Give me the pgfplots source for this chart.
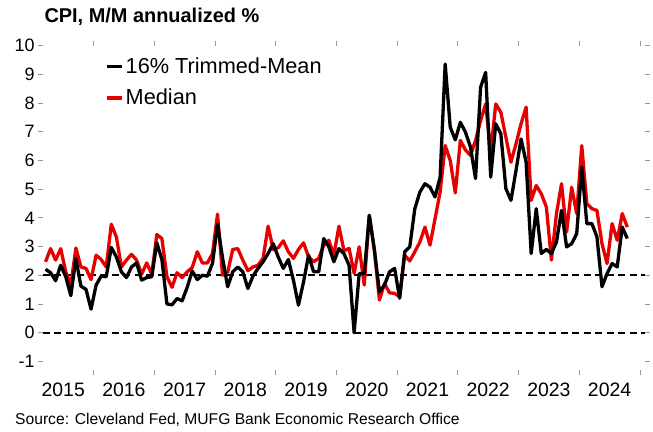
\documentclass[border=0pt]{standalone}
\usepackage{pgfplots}
\pgfplotsset{compat=1.18}
\usepackage{pgfplotstable}
\usepackage{fontspec}
\setmainfont{Liberation Sans}
\definecolor{medred}{RGB}{230,0,0}
\pgfplotstableread{
i tm med
2 2.21 2.47
3 2.09 2.93
4 1.81 2.53
5 2.35 2.93
6 1.95 2.12
7 1.29 1.66
8 2.58 2.95
9 1.62 2.29
10 1.51 2.24
11 0.82 1.85
12 1.66 2.70
13 1.97 2.55
14 1.95 2.29
15 2.97 3.78
16 2.64 3.34
17 2.12 2.29
18 1.92 2.53
19 2.29 2.73
20 2.43 2.53
21 1.83 2.04
22 1.92 2.43
23 1.95 2.04
24 3.13 3.42
25 2.55 3.28
26 1.00 1.95
27 0.97 1.58
28 1.19 2.09
29 1.11 1.92
30 1.58 2.12
31 2.15 2.27
32 1.85 2.82
33 2.00 2.43
34 1.97 2.43
35 2.41 2.76
36 3.78 4.13
37 2.60 2.00
38 1.60 2.10
39 2.12 2.90
40 2.29 2.93
41 2.12 2.53
42 1.54 2.16
43 1.97 2.29
44 2.24 2.35
45 2.47 2.59
46 2.76 3.71
47 3.10 2.90
48 2.64 2.96
49 2.24 3.20
50 2.55 2.82
51 1.83 2.59
52 0.96 2.90
53 1.77 3.13
54 2.70 2.64
55 2.12 2.47
56 2.12 2.59
57 3.28 3.05
58 2.99 3.22
59 2.47 2.70
60 2.93 3.71
61 2.75 2.85
62 2.35 2.94
63 0.00 2.07
64 2.06 2.99
65 2.06 1.66
66 4.09 4.09
67 2.90 2.87
68 1.43 1.14
69 1.66 1.71
70 2.12 1.39
71 2.24 1.37
72 1.20 1.25
73 2.82 2.70
74 2.99 2.50
75 4.32 2.82
76 4.90 3.16
77 5.19 3.68
78 5.07 3.05
79 4.73 3.97
80 5.42 4.90
81 9.36 6.52
82 7.16 6.00
83 6.72 4.87
84 7.33 6.70
85 6.99 6.37
86 6.47 6.18
87 5.37 6.70
88 8.55 7.39
89 9.07 7.97
90 5.42 6.30
91 7.28 7.97
92 6.93 7.68
93 5.02 6.81
94 4.61 5.94
95 5.65 6.58
96 6.75 7.28
97 5.94 7.86
98 2.76 4.61
99 4.32 5.13
100 2.76 4.84
101 2.90 4.38
102 2.76 2.53
103 3.16 4.15
104 4.26 5.19
105 2.99 3.51
106 3.10 5.07
107 3.45 4.15
108 5.77 6.52
109 3.80 4.50
110 3.80 4.32
111 3.34 4.26
112 1.60 3.10
113 2.06 2.41
114 2.41 3.80
115 2.29 3.22
116 3.68 4.15
117 3.28 3.68
}\cpidata
\begin{document}
\begin{tikzpicture}
\path[use as bounding box] (-43bp,-62bp) rectangle (610bp,370bp);
\begin{axis}[
  scale only axis, width=602bp, height=324.3bp,
  at={(0bp,0bp)}, anchor=south west,
  xmin=1.5, xmax=120.5, ymin=-1.3, ymax=10,
  axis line style={draw=none},
  clip=false,
  tick align=outside,
  major tick length=5bp,
  tick style={gray!80, line width=0.8bp},
  ytick={-1,0,...,10},
  xtick={11.5,23.5,...,119.5},
  xticklabels={},
  extra x ticks={5.5,17.5,...,113.5},
  extra x tick labels={2015,2016,2017,2018,2019,2020,2021,2022,2023,2024},
  extra x tick style={major tick length=0pt, tick label style={yshift=-9bp, font=\fontsize{19.5}{21}\selectfont}},
  /pgf/number format/assume math mode=true,
  tick label style={font=\fontsize{18}{20}\selectfont, black},
  legend style={at={(0.098,0.975)}, anchor=north west, draw=none, fill=none,
    font=\fontsize{21.8}{24}\selectfont, row sep=10bp,
    nodes={inner sep=2bp}},
  legend cell align=left,
  reverse legend,
  legend image code/.code={\draw[#1, line width=3.5bp] (0bp,0bp) -- (15bp,0bp);},
]
\addplot[black, line width=2.2bp, dash pattern=on 7bp off 4.5bp, forget plot] coordinates {(1.5,0) (120.5,0)};
\addplot[black, line width=2.2bp, dash pattern=on 7bp off 4.5bp, forget plot] coordinates {(1.5,2) (120.5,2)};
\addplot[medred, line width=3.3bp, line join=round] table[x=i, y=med] {\cpidata};
\addlegendentry{Median}
\addplot[black, line width=3.3bp, line join=round] table[x=i, y=tm] {\cpidata};
\addlegendentry{16\% Trimmed-Mean}
\end{axis}
\node[anchor=west, font=\bfseries\fontsize{20}{22}\selectfont] at (-2bp,353bp) {CPI, M/M annualized \%};
\node[anchor=west, font=\fontsize{15.7}{18}\selectfont, inner sep=0pt] at (-28bp,-50bp) {Source: Cleveland Fed, MUFG Bank Economic Research Office};
\end{tikzpicture}
\end{document}
